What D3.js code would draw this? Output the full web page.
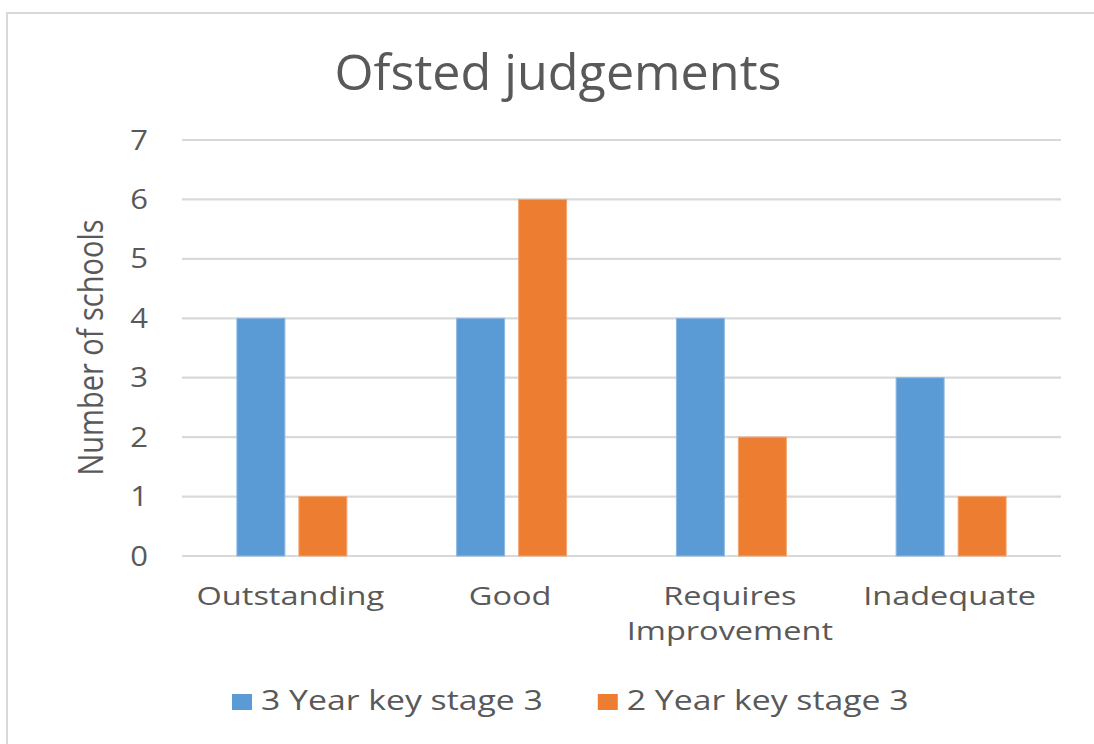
<!DOCTYPE html>
<html><head><meta charset="utf-8">
<script src="https://cdn.jsdelivr.net/npm/d3@7"></script>
<style>
body{margin:0;background:#fff}
text{font-family:"Open Sans",sans-serif;fill:#595959}
</style>
</head><body>
<svg id="c" width="1094" height="744"></svg>
<script>
// ---- data ----
const categories = ["Outstanding", "Good", "Requires Improvement", "Inadequate"];
const seriesNames = ["3 Year key stage 3", "2 Year key stage 3"];
const threeYearKS3 = [4, 4, 4, 3];
const twoYearKS3 = [1, 6, 2, 1];
const yTicks = [0, 1, 2, 3, 4, 5, 6, 7];
const titleText = "Ofsted judgements";
const yAxisTitle = "Number of schools";

const seriesValues = [threeYearKS3, twoYearKS3];
const colors = ["#5B9BD5", "#ED7D31"];
const strokes = ["#8DB8E3", "#F3A673"];

const svg = d3.select("#c");
const W = 1094, H = 744;
const plotLeft = 182, plotRight = 1061, plotTop = 140, plotBottom = 556;

function stretch(sel, k) {
  sel.each(function () {
    const w = this.getComputedTextLength();
    d3.select(this).attr("textLength", w * k).attr("lengthAdjust", "spacingAndGlyphs");
  });
}

// chart border (left and top visible)
svg.append("line").attr("x1", 7).attr("y1", 13).attr("x2", 7).attr("y2", H)
  .attr("stroke", "#d9d9d9").attr("stroke-width", 2);
svg.append("line").attr("x1", 6).attr("y1", 13).attr("x2", W).attr("y2", 13)
  .attr("stroke", "#d9d9d9").attr("stroke-width", 2);

// scales
const y = d3.scaleLinear().domain([0, 7]).range([plotBottom, plotTop]);
const x0 = d3.scaleBand().domain(categories).range([plotLeft, plotRight]).paddingInner(0.495).paddingOuter(0.2475);
const x1 = d3.scaleBand().domain([0, 1]).range([0, x0.bandwidth()]).paddingInner(0.21);

// gridlines
svg.append("g").selectAll("line").data(yTicks).join("line")
  .attr("x1", plotLeft).attr("x2", plotRight)
  .attr("y1", d => y(d)).attr("y2", d => y(d))
  .attr("stroke", "#d9d9d9").attr("stroke-width", 2.2);

// y tick labels
svg.append("g").selectAll("text").data(yTicks).join("text")
  .attr("x", 148).attr("y", d => y(d) + 9.5)
  .attr("text-anchor", "end").attr("font-size", 27)
  .text(d => d)
  .call(stretch, 1.15);

// bars
const groups = svg.append("g").selectAll("g").data(categories).join("g")
  .attr("transform", d => `translate(${x0(d)},0)`);
groups.selectAll("rect").data((d, i) => seriesValues.map((s, j) => ({ j, v: s[i] }))).join("rect")
  .attr("x", d => x1(d.j) + 0.5)
  .attr("width", x1.bandwidth() - 1)
  .attr("y", d => y(d.v))
  .attr("height", d => y(0) - y(d.v))
  .attr("fill", d => colors[d.j])
  .attr("stroke", d => strokes[d.j])
  .attr("stroke-width", 1);

// category labels
const catG = svg.append("g");
categories.forEach(d => {
  const lines = d.length > 12 ? d.split(" ") : [d];
  const cx = x0(d) + x0.bandwidth() / 2 - 1.5;
  lines.forEach((ln, k) => {
    catG.append("text")
      .attr("x", cx).attr("y", 605 + k * 35)
      .attr("text-anchor", "middle").attr("font-size", 26)
      .text(ln).call(stretch, 1.25);
  });
});

// y axis title
svg.append("text")
  .attr("transform", "translate(103,347.5) scale(1.2,1) rotate(-90)")
  .attr("text-anchor", "middle").attr("font-size", 29)
  .text(yAxisTitle);

// title
svg.append("text")
  .attr("x", 558).attr("y", 90).attr("text-anchor", "middle")
  .attr("font-size", 49)
  .attr("textLength", 447).attr("lengthAdjust", "spacingAndGlyphs")
  .text(titleText);

// legend
let lx = 232;
seriesNames.forEach((name, j) => {
  svg.append("rect").attr("x", lx).attr("y", 694).attr("width", 20).attr("height", 16)
    .attr("fill", colors[j]);
  const t = svg.append("text").attr("x", lx + 29).attr("y", 710).attr("font-size", 27)
    .text(name);
  const w = t.node().getComputedTextLength() * 1.25;
  t.attr("textLength", w).attr("lengthAdjust", "spacingAndGlyphs");
  lx += 29 + w + 55;
});
</script>
</body></html>
